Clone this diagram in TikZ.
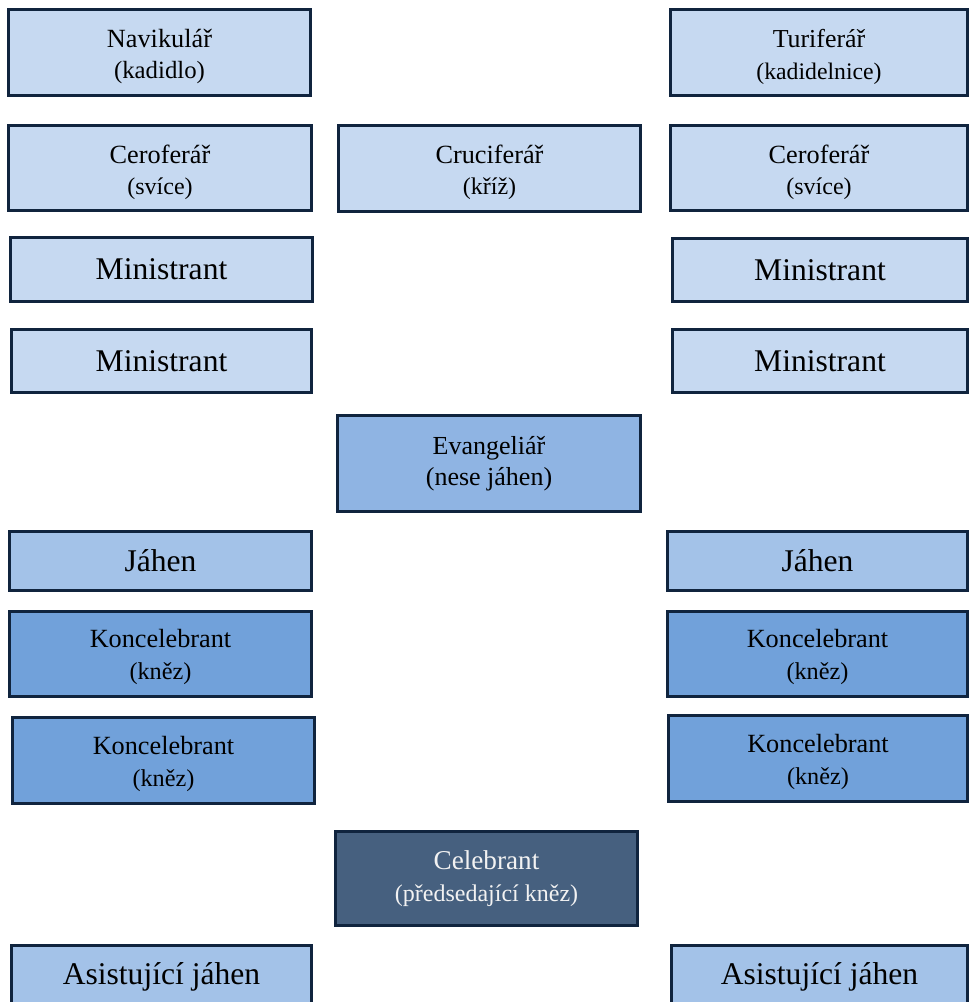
\documentclass[tikz,border=0pt]{standalone}
\usepackage{fontspec}
\setmainfont{Liberation Serif}
\definecolor{bordc}{HTML}{10243E}
\definecolor{lightc}{HTML}{C6D9F1}
\definecolor{jahc}{HTML}{A3C2E8}
\definecolor{evc}{HTML}{8FB4E3}
\definecolor{konc}{HTML}{71A1DA}
\definecolor{celc}{HTML}{46607F}
% #1 size line1, #2 size line2, #3 baselineskip, #4 line1, #5 line2
\newcommand\twol[5]{\fontsize{#1}{#3}\selectfont #4\\\fontsize{#2}{#3}\selectfont #5}
\tikzset{
  pbox/.style={draw=bordc, line width=2.25pt, rectangle, inner sep=0pt, align=center, text=black,
    font=\fontsize{19.5pt}{23.5pt}\selectfont},
  lt/.style={pbox, fill=lightc},
  jh/.style={pbox, fill=jahc},
  ev/.style={pbox, fill=evc},
  kn/.style={pbox, fill=konc},
  cl/.style={pbox, fill=celc, text=white!95!black},
  big/.style={font=\fontsize{23.7pt}{26pt}\selectfont},
  txt/.style={inner sep=0pt, align=center, text=black, font=\fontsize{19.5pt}{23.5pt}\selectfont},
}
\begin{document}
\begin{tikzpicture}[x=0.75pt,y=-0.75pt]
\useasboundingbox (0,0) rectangle (969,1002);
\fill[white] (0,0) rectangle (969,1002);
% row 1
\node[lt, minimum width=226.5pt, minimum height=64.5pt] (nav) at (159.5,52.5) {};
\node[txt, yshift=-3.2pt] (navT) at (nav.center)
  {\twol{19.7pt}{18.6pt}{23pt}{Navikulář}{(kadidlo)}};
\node[lt, minimum width=222.75pt, minimum height=64.5pt] (tur) at (819,52.5) {};
\node[txt, yshift=-3.2pt] (turT) at (tur.center)
  {\twol{19.4pt}{17.8pt}{23pt}{Turiferář}{(kadidelnice)}};
% row 2
\node[lt, minimum width=227.25pt, minimum height=63.75pt] (cerL) at (160,168) {};
\node[txt, yshift=-3pt] (cerLT) at (cerL.center)
  {\twol{19.7pt}{18pt}{23pt}{Ceroferář}{(svíce)}};
\node[lt, minimum width=226.5pt, minimum height=64.5pt] (cru) at (489.5,168.5) {};
\node[txt, yshift=-3pt] (cruT) at (cru.center)
  {\twol{19.7pt}{18pt}{23pt}{Cruciferář}{(kříž)}};
\node[lt, minimum width=222.75pt, minimum height=63.75pt] (cerR) at (819,168) {};
\node[txt, yshift=-3pt] (cerRT) at (cerR.center)
  {\twol{19.7pt}{18pt}{23pt}{Ceroferář}{(svíce)}};
% ministrants
\node[lt, big, minimum width=226.5pt, minimum height=48pt] (min1L) at (161.5,269.5) {Ministrant};
\node[lt, big, minimum width=221.25pt, minimum height=47.25pt] (min1R) at (820,270) {Ministrant};
\node[lt, big, minimum width=225pt, minimum height=47.25pt] (min2L) at (161.5,361) {Ministrant};
\node[lt, big, minimum width=221.25pt, minimum height=47.25pt] (min2R) at (820,361) {Ministrant};
% evangeliar
\node[ev, minimum width=227.25pt, minimum height=72pt] (evang) at (489,463.5)
  {\twol{19.5pt}{19.5pt}{25.5pt}{Evangeliář}{(nese jáhen)}};
% jahen
\node[jh, big, minimum width=226.5pt, minimum height=44.25pt] (jahL) at (160.5,561) {Jáhen};
\node[jh, big, minimum width=225pt, minimum height=44.25pt] (jahR) at (817.5,561) {Jáhen};
% koncelebrants
\node[kn, minimum width=226.5pt, minimum height=63.75pt] (kon1L) at (160.5,654) {};
\node[txt, yshift=-2.3pt] (kon1LT) at (kon1L.center)
  {\twol{19.7pt}{18.2pt}{24.5pt}{Koncelebrant}{(kněz)}};
\node[kn, minimum width=225pt, minimum height=63.75pt] (kon1R) at (817.5,654) {};
\node[txt, yshift=-2.3pt] (kon1RT) at (kon1R.center)
  {\twol{19.7pt}{18.2pt}{24.5pt}{Koncelebrant}{(kněz)}};
\node[kn, minimum width=226.5pt, minimum height=64.5pt] (kon2L) at (163.5,760.5) {};
\node[txt, yshift=-2.5pt] (kon2LT) at (kon2L.center)
  {\twol{19.7pt}{18.2pt}{24.5pt}{Koncelebrant}{(kněz)}};
\node[kn, minimum width=224.25pt, minimum height=64.5pt] (kon2R) at (818,758.5) {};
\node[txt, yshift=-2.5pt] (kon2RT) at (kon2R.center)
  {\twol{19.7pt}{18.2pt}{24.5pt}{Koncelebrant}{(kněz)}};
% celebrant
\node[cl, minimum width=226.5pt, minimum height=70.5pt] (cel) at (486.5,878.5)
  {\twol{20.4pt}{18pt}{23pt}{Celebrant}{(předsedající kněz)}};
% assisting deacons
\node[jh, big, minimum width=225pt, minimum height=47.25pt] (asL) at (161.5,976.5) {Asistující jáhen};
\node[jh, big, minimum width=222pt, minimum height=47.25pt] (asR) at (819.5,976.5) {Asistující jáhen};
\end{tikzpicture}
\end{document}
